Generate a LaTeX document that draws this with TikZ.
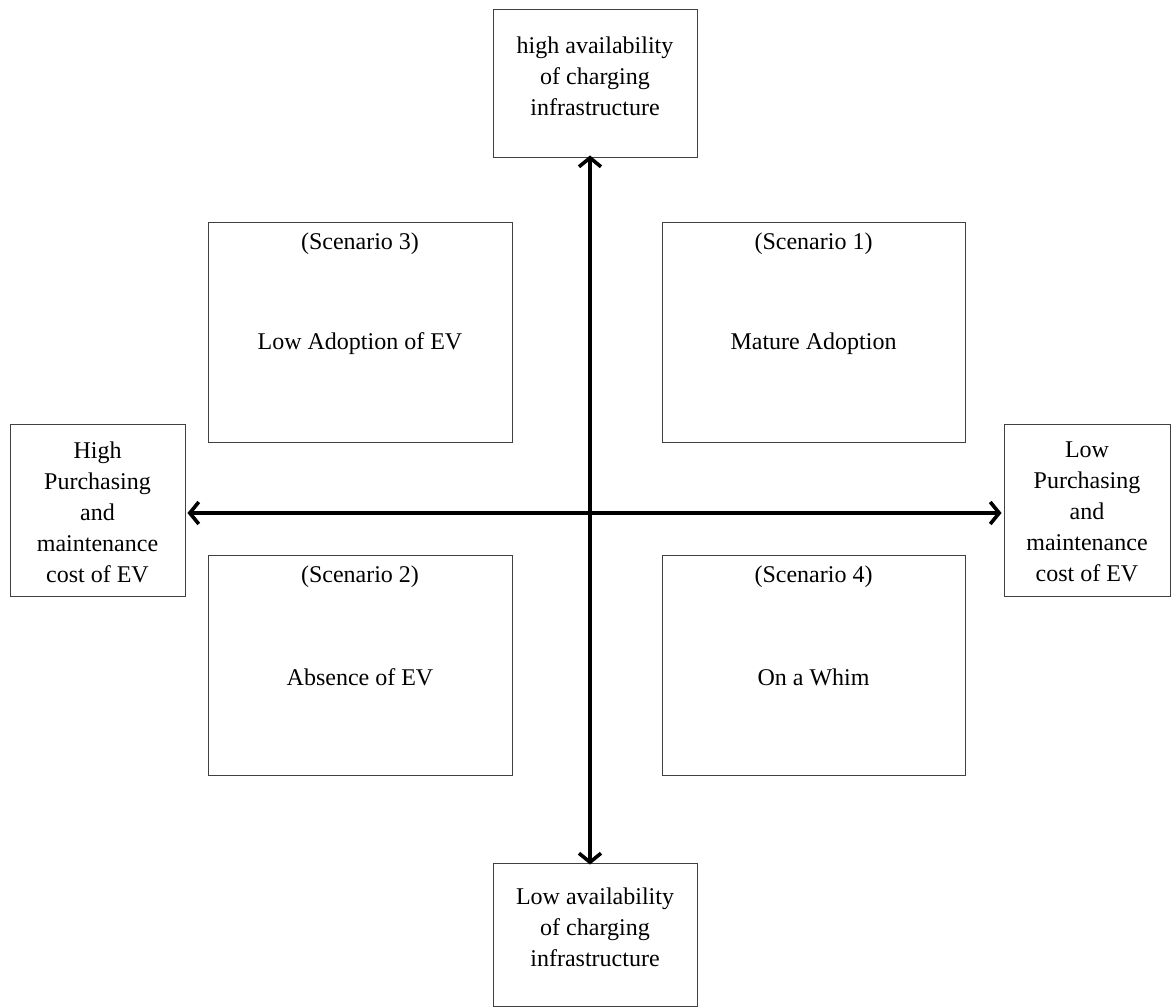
\documentclass[tikz,border=0pt]{standalone}
\usepackage{fontspec}
\setmainfont{Liberation Serif}
\usetikzlibrary{arrows.meta}
\begin{document}
\begin{tikzpicture}[x=1pt,y=-1pt,
  box/.style={draw=black!75, line width=0.9pt, inner sep=0pt, fill=white},
  txt/.style={font=\fontsize{24}{31}\selectfont, align=center, inner sep=0pt},
  axis/.style={line width=3.6pt, {Straight Barb[length=9pt,width=22pt,line width=3.6pt]}-{Straight Barb[length=9pt,width=22pt,line width=3.6pt]}}
]
\useasboundingbox[fill=white] (0,0) rectangle (1173,1007);
% outer boxes
\node[box, minimum width=204pt, minimum height=148pt] (top) at (595,83) {};
\node[txt] (toptxt) at (595,76) {high availability\\of charging\\infrastructure};
\node[box, minimum width=204pt, minimum height=143pt] (bot) at (595,934.5) {};
\node[txt] (bottxt) at (595,927) {Low availability\\of charging\\infrastructure};
\node[box, minimum width=175pt, minimum height=172pt] (left) at (97.5,510) {};
\node[txt] (lefttxt) at (97.5,512) {High\\Purchasing\\and\\maintenance\\cost of EV};
\node[box, minimum width=166pt, minimum height=172pt] (right) at (1087,510) {};
\node[txt] (righttxt) at (1087,512) {Low\\Purchasing\\and\\maintenance\\cost of EV};
% scenario boxes
\node[box, minimum width=304pt, minimum height=220pt] (s3) at (360,332) {};
\node[txt] (s3a) at (360,244) {(Scenario 3)};
\node[txt] (s3b) at (360,344) {Low Adoption of EV};
\node[box, minimum width=303pt, minimum height=220pt] (s1) at (813.5,332) {};
\node[txt] (s1a) at (813.5,244) {(Scenario 1)};
\node[txt] (s1b) at (813.5,344) {Mature Adoption};
\node[box, minimum width=304pt, minimum height=220pt] (s2) at (360,665) {};
\node[txt] (s2a) at (360,577) {(Scenario 2)};
\node[txt] (s2b) at (360,677) {Absence of EV};
\node[box, minimum width=303pt, minimum height=220pt] (s4) at (813.5,665) {};
\node[txt] (s4a) at (813.5,577) {(Scenario 4)};
\node[txt] (s4b) at (813.5,677) {On a Whim};
% axes
\coordinate (c) at (590,513);
\draw[axis] ([yshift=2pt]top.south -| c) -- ([yshift=-2pt]bot.north -| c);
\draw[axis] ([xshift=2pt]left.east |- c) -- ([xshift=-2pt]right.west |- c);
\end{tikzpicture}
\end{document}
